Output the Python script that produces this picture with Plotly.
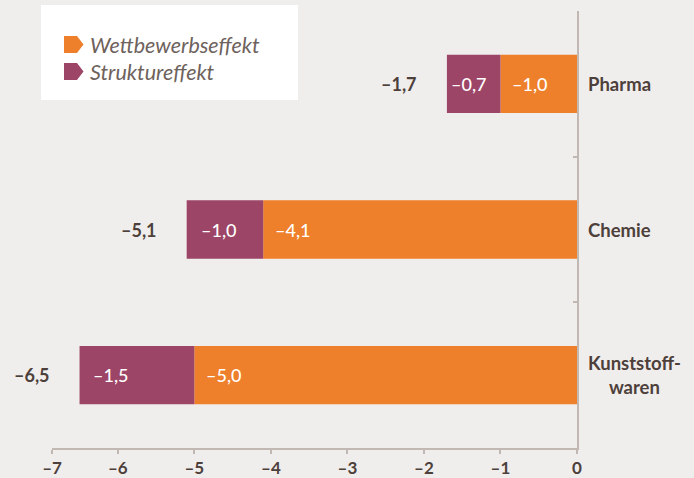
import plotly.graph_objects as go

categories = ["Kunststoffwaren", "Chemie", "Pharma"]
category_labels = ["Kunststoff-<br>waren", "Chemie", "Pharma"]
wettbewerb = [-5.0, -4.1, -1.0]
struktur = [-1.5, -1.0, -0.7]
totals = [-6.5, -5.1, -1.7]
x_min = -6.86          # axis starts slightly right of -7 in the original
x_ticks = [x_min, -6, -5, -4, -3, -2, -1, 0]
x_tick_labels = ["–7", "–6", "–5", "–4", "–3", "–2", "–1", "0"]

ORANGE = "#ee7f2b"
PURPLE = "#9d4566"
BG = "#f0eeec"
TXT = "#4d403b"
AXIS = "#c2b8b3"
FONT = "Lato"


def fmt(v):
    s = f"{abs(v):.1f}".replace(".", ",")
    return ("–" + s) if v < 0 else s


fig = go.Figure()
fig.add_trace(go.Bar(y=categories, x=wettbewerb, orientation="h", marker=dict(color=ORANGE, line=dict(width=0)),
                     width=0.4, name="Wettbewerbseffekt", showlegend=False, hoverinfo="skip"))
fig.add_trace(go.Bar(y=categories, x=struktur, orientation="h", marker=dict(color=PURPLE, line=dict(width=0)),
                     width=0.4, name="Struktureffekt", showlegend=False, hoverinfo="skip"))

purple_shift = [11, 12, 2]
annotations = []
for i, c in enumerate(categories):
    w = wettbewerb[i]
    s = struktur[i]
    annotations.append(dict(x=w, y=c, xref="x", yref="y", text=fmt(w), showarrow=False,
                            xanchor="left", xshift=10,
                            font=dict(family=FONT, size=18, color="white", weight=500)))
    annotations.append(dict(x=w + s, y=c, xref="x", yref="y", text=fmt(s), showarrow=False,
                            xanchor="left", xshift=purple_shift[i],
                            font=dict(family=FONT, size=18, color="white", weight=500)))
    annotations.append(dict(x=totals[i], y=c, xref="x", yref="y", text=fmt(totals[i]), showarrow=False,
                            xanchor="right", xshift=-28,
                            font=dict(family=FONT, size=18, color=TXT, weight=700)))
    annotations.append(dict(x=1, y=c, xref="paper", yref="y", text=category_labels[i], showarrow=False,
                            xanchor="left", xshift=9, align="center",
                            font=dict(family=FONT, size=18.5, color=TXT, weight=700)))

# legend (manual)
L, T, W, H = 52.0, 11.0, 525.0, 437.0
def px(x):
    return (x - L) / W
def py(y):
    return (T + H - y) / H

shapes = [dict(type="rect", xref="paper", yref="paper", x0=px(41), x1=px(298), y0=py(100), y1=py(5),
               fillcolor="white", line=dict(width=0), layer="above")]
legend_items = [("Wettbewerbseffekt", ORANGE, 44.5), ("Struktureffekt", PURPLE, 71.5)]
for name, col, yc in legend_items:
    path = (f"M {px(64)} {py(yc-8.5)} L {px(77)} {py(yc-8.5)} L {px(83.5)} {py(yc)} "
            f"L {px(77)} {py(yc+8.5)} L {px(64)} {py(yc+8.5)} Z")
    shapes.append(dict(type="path", xref="paper", yref="paper", path=path, fillcolor=col,
                       line=dict(width=0), layer="above"))
    annotations.append(dict(x=px(88), y=py(yc), xref="paper", yref="paper", text="<i>" + name + "</i>",
                            showarrow=False, xanchor="left", yanchor="middle",
                            font=dict(family=FONT, size=21.5, color="#6e625d")))

fig.update_layout(
    width=694, height=478,
    margin=dict(l=52, r=117, t=11, b=30, autoexpand=False),
    paper_bgcolor=BG, plot_bgcolor=BG,
    barmode="relative", bargap=0.6,
    showlegend=False,
    annotations=annotations,
    shapes=shapes,
    xaxis=dict(range=[x_min, 0], tickvals=x_ticks, ticktext=x_tick_labels, automargin=False,
               showgrid=False, zeroline=False, showline=True, linecolor=AXIS, linewidth=1.5,
               ticks="outside", ticklen=4, tickcolor=AXIS, tickwidth=1.5, ticklabelstandoff=0,
               tickfont=dict(family=FONT, size=17, color=TXT, weight=700), fixedrange=True),
    yaxis=dict(categoryorder="array", categoryarray=categories, range=[-0.5, 2.5], side="right",
               automargin=False,
               showticklabels=False, showgrid=False, zeroline=False, showline=True, linecolor=AXIS, linewidth=1.5,
               ticks="inside", tickson="boundaries", ticklen=4, tickcolor=AXIS, tickwidth=1.5, fixedrange=True),
)

fig.write_html("out.html", config={"displayModeBar": False},
               post_script="document.body.style.margin='0';document.body.style.padding='0';document.body.style.background='%s';" % BG)
